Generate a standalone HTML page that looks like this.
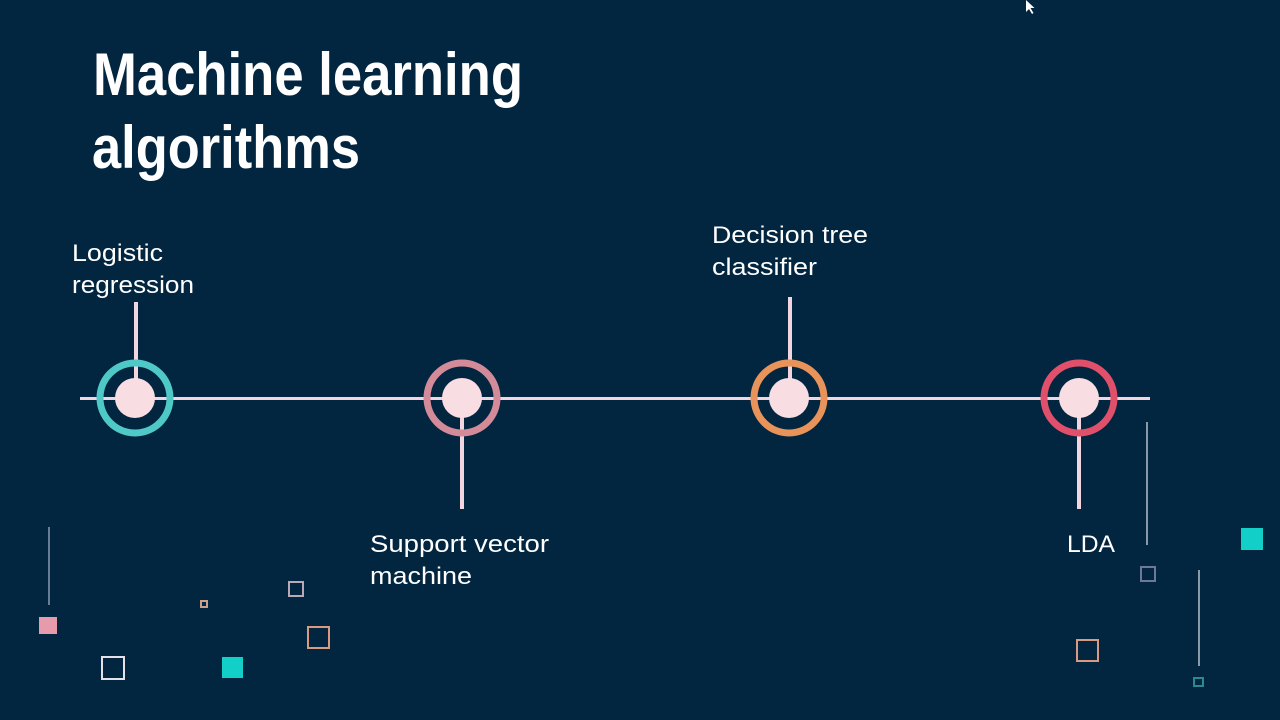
<!DOCTYPE html>
<html><head><meta charset="utf-8"><style>
html,body{margin:0;padding:0;background:#022540;}
svg{display:block}
</style></head><body>
<svg width="1280" height="720" viewBox="0 0 1280 720" xmlns="http://www.w3.org/2000/svg">
<rect width="1280" height="720" fill="#022540"/>
<g font-family="Liberation Sans, sans-serif" font-weight="bold" fill="#ffffff" font-size="60">
<text x="93" y="95" textLength="430" lengthAdjust="spacingAndGlyphs">Machine learning</text>
<text x="92" y="168" textLength="268" lengthAdjust="spacingAndGlyphs">algorithms</text>
</g>
<g font-family="Liberation Sans, sans-serif" fill="#ffffff" font-size="24" lengthAdjust="spacingAndGlyphs">
<text x="72" y="261" textLength="91" lengthAdjust="spacingAndGlyphs">Logistic</text>
<text x="72" y="293" textLength="122" lengthAdjust="spacingAndGlyphs">regression</text>
<text x="712" y="243" textLength="156" lengthAdjust="spacingAndGlyphs">Decision tree</text>
<text x="712" y="275" textLength="105" lengthAdjust="spacingAndGlyphs">classifier</text>
<text x="370" y="552" textLength="179" lengthAdjust="spacingAndGlyphs">Support vector</text>
<text x="370" y="584" textLength="102" lengthAdjust="spacingAndGlyphs">machine</text>
<text x="1067" y="552" textLength="48" lengthAdjust="spacingAndGlyphs">LDA</text>
</g>
<line x1="80" y1="398.5" x2="1150" y2="398.5" stroke="#f1d6df" stroke-width="3"/>
<g stroke="#f1d6df" stroke-width="4">
<line x1="136" y1="302" x2="136" y2="382"/>
<line x1="462" y1="416" x2="462" y2="509"/>
<line x1="790" y1="297" x2="790" y2="382"/>
<line x1="1079" y1="416" x2="1079" y2="509"/>
</g>
<g stroke-width="7" fill="none">
<circle cx="135" cy="398" r="35" stroke="#4ec9c7"/>
<circle cx="462" cy="398" r="35" stroke="#d38b9a"/>
<circle cx="789" cy="398" r="35" stroke="#e8935a"/>
<circle cx="1079" cy="398" r="35" stroke="#e0506b"/>
</g>
<g fill="#f8dde3">
<circle cx="135" cy="398" r="20"/>
<circle cx="462" cy="398" r="20"/>
<circle cx="789" cy="398" r="20"/>
<circle cx="1079" cy="398" r="20"/>
</g>
<line x1="49" y1="527" x2="49" y2="605" stroke="#8a9ab0" stroke-width="1.5"/>
<line x1="1147" y1="422" x2="1147" y2="545" stroke="#b8c0cc" stroke-width="1.5"/>
<line x1="1199" y1="570" x2="1199" y2="666" stroke="#b8c0cc" stroke-width="1.5"/>
<rect x="39" y="617" width="18" height="17" fill="#e89aad"/>
<rect x="222" y="657" width="21" height="21" fill="#12cfc8"/>
<rect x="1241" y="528" width="22" height="22" fill="#12cfc8"/>
<g fill="none" stroke-width="2">
<rect x="102" y="657" width="22" height="22" stroke="#e6e0e8"/>
<rect x="201" y="601" width="6" height="6" stroke="#c8a090"/>
<rect x="289" y="582" width="14" height="14" stroke="#b8a8b8"/>
<rect x="308" y="627" width="21" height="21" stroke="#d89a80"/>
<rect x="1077" y="640" width="21" height="21" stroke="#d89a80"/>
<rect x="1141" y="567" width="14" height="14" stroke="#707898"/>
<rect x="1194" y="678" width="9" height="8" stroke="#2a8a90"/>
</g>
<path d="M1026 0 l0 12 l3 -3 l3 5 l1.5 -1 l-3 -5 l4 0 z" fill="#fff"/>
</svg>
</body></html>
